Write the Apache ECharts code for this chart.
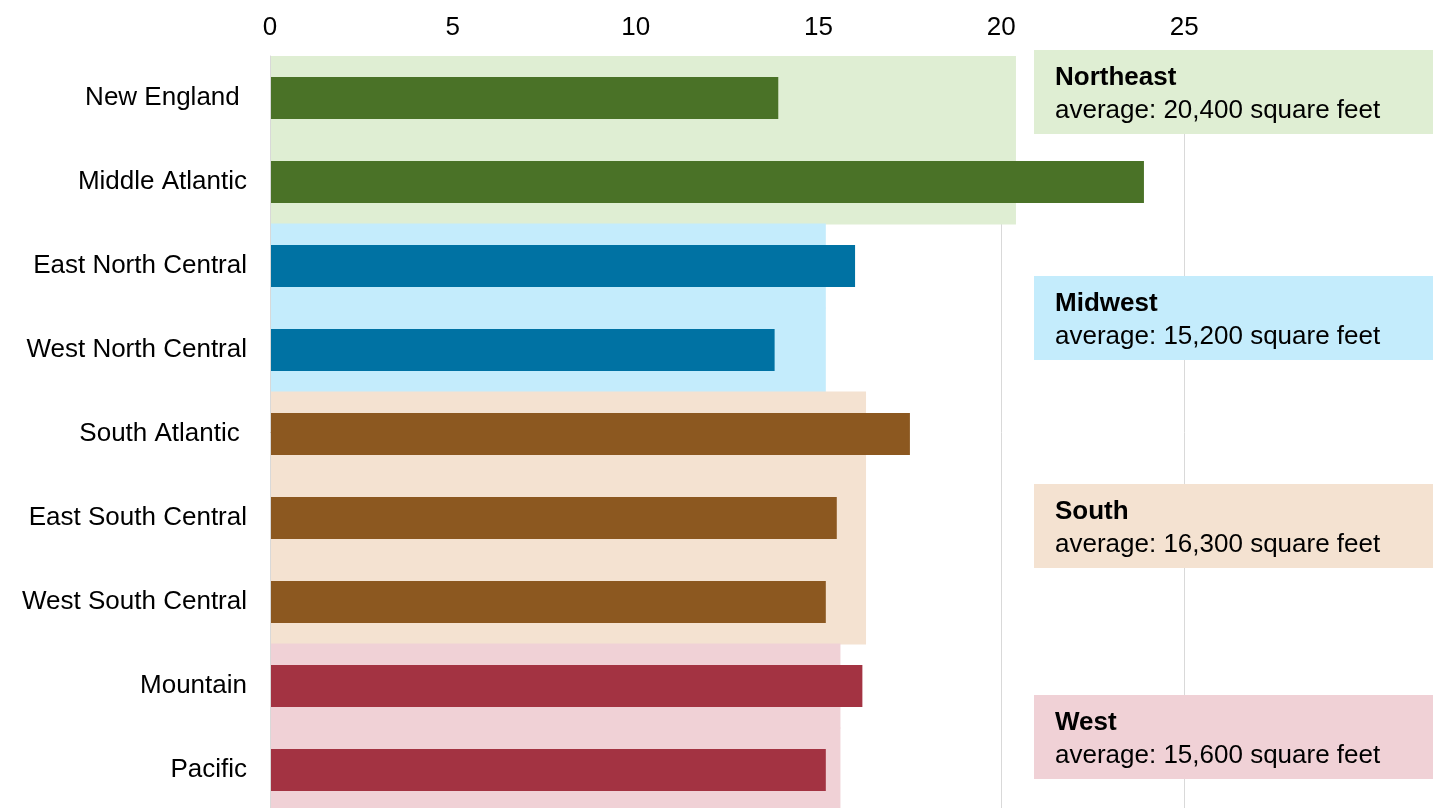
<!DOCTYPE html>
<html>
<head>
<meta charset="utf-8">
<script src="https://cdn.jsdelivr.net/npm/echarts@6/dist/echarts.min.js"></script>
<style>
  html, body { margin: 0; padding: 0; background: #fff; }
  #chart { width: 1433px; height: 808px; }
</style>
</head>
<body>
<div id="chart"></div>
<script>
// floorspace per building, thousand square feet
var categories = ['New England ', 'Middle Atlantic', 'East North Central', 'West North Central', 'South Atlantic ', 'East South Central', 'West South Central', 'Mountain', 'Pacific'];
var floorspace = [13.9, 23.9, 16.0, 13.8, 17.5, 15.5, 15.2, 16.2, 15.2];
var regionOf = [0, 0, 1, 1, 2, 2, 2, 3, 3];
var regions = ['Northeast', 'Midwest', 'South', 'West'];
var regionAvg = [20.4, 15.2, 16.3, 15.6];
var regionAvgText = ['20,400', '15,200', '16,300', '15,600'];

var barColors = ['#4a7227', '#0072a3', '#8c5820', '#a33342'];
var bandColors = ['#dfeed3', '#c4ecfc', '#f4e2d1', '#f0d1d6'];
var boxTop = [50, 276, 484, 695];
var font = '"Liberation Sans", Arial, sans-serif';

var chart = echarts.init(document.getElementById('chart'));

var option = {
  animation: false,
  grid: { left: 270, top: 56, width: 1097, height: 756, outerBoundsMode: 'none' },
  xAxis: {
    type: 'value',
    position: 'top',
    min: 0,
    max: 30,
    interval: 5,
    axisLine: { show: false },
    axisTick: { show: false },
    axisLabel: { fontSize: 26, color: '#000', fontFamily: font, margin: 15, showMaxLabel: false },
    splitLine: { showMaxLine: false, lineStyle: { color: '#d9d9d9', width: 1 } }
  },
  yAxis: [
    {
      type: 'category',
      inverse: true,
      data: categories,
      z: 5,
      axisTick: { show: false },
      axisLine: { show: true, lineStyle: { color: '#d9d9d9', width: 1 } },
      axisLabel: { fontSize: 26, color: '#000', fontFamily: font, margin: 23, padding: [4, 0, 0, 0] }
    },
    {
      type: 'category',
      inverse: true,
      data: categories,
      show: false
    }
  ],
  series: [
    {
      name: 'region average',
      type: 'bar',
      yAxisIndex: 1,
      barWidth: '101%',
      silent: true,
      z: 1,
      data: regionOf.map(function (r) {
        return { value: regionAvg[r], itemStyle: { color: bandColors[r] } };
      })
    },
    {
      name: 'division',
      type: 'bar',
      yAxisIndex: 0,
      barWidth: '50%',
      z: 2,
      data: floorspace.map(function (v, i) {
        return { value: v, itemStyle: { color: barColors[regionOf[i]] } };
      })
    }
  ],
  graphic: regions.map(function (name, r) {
    return {
      type: 'group',
      left: 1034,
      top: boxTop[r],
      z: 20,
      children: [
        { type: 'rect', z: 20, shape: { x: 0, y: 0, width: 399, height: 84 }, style: { fill: bandColors[r] } },
        {
          type: 'text',
          z: 21,
          x: 21,
          y: 11,
          style: {
            text: '{b|' + name + '}\n{n|average: ' + regionAvgText[r] + ' square feet}',
            rich: {
              b: { fontSize: 26, fontWeight: 'bold', fontFamily: font, lineHeight: 33, fill: '#000' },
              n: { fontSize: 26, fontFamily: font, lineHeight: 33, fill: '#000' }
            }
          }
        }
      ]
    };
  })
};

chart.setOption(option);
</script>
</body>
</html>
